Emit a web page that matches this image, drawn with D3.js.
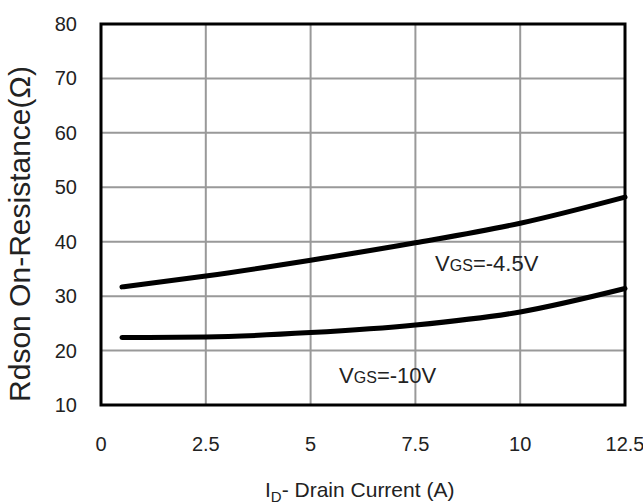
<!DOCTYPE html>
<html>
<head>
<meta charset="utf-8">
<script src="https://cdn.jsdelivr.net/npm/d3@7"></script>
<style>
  body { margin: 0; background: #fff; }
  text { font-family: Arial, "Liberation Sans", sans-serif; fill: #222; }
</style>
</head>
<body>
<div id="chart"></div>
<script>
// chart values
var xTicks = [0, 2.5, 5, 7.5, 10, 12.5];
var yTicks = [10, 20, 30, 40, 50, 60, 70, 80];
var current = [0.5, 2.5, 5, 7.5, 10, 12.5];
var rdsVgs45 = [31.7, 33.7, 36.6, 39.8, 43.4, 48.2];
var rdsVgs10 = [22.4, 22.5, 23.3, 24.7, 27.1, 31.4];
var seriesLabels = [
  {sub: "GS", rest: "=-4.5V", x: 7.97, y: 34.6},
  {sub: "GS", rest: "=-10V", x: 5.68, y: 14.0}
];

var svgW = 643, svgH = 504,
    plotL = 101, plotR = 625, plotT = 24, plotB = 405;

var svg = d3.select("#chart").append("svg")
    .attr("width", svgW)
    .attr("height", svgH);

var x = d3.scaleLinear().domain([0, 12.5]).range([plotL, plotR]);
var y = d3.scaleLinear().domain([10, 80]).range([plotB, plotT]);

// grid
var grid = svg.append("g");
grid.selectAll(".vx").data(xTicks.slice(1, -1)).enter().append("line")
    .attr("x1", function(d){ return x(d); })
    .attr("x2", function(d){ return x(d); })
    .attr("y1", plotT).attr("y2", plotB)
    .attr("stroke", "#999").attr("stroke-width", 2);
grid.selectAll(".hy").data(yTicks.slice(1, -1)).enter().append("line")
    .attr("y1", function(d){ return y(d); })
    .attr("y2", function(d){ return y(d); })
    .attr("x1", plotL).attr("x2", plotR)
    .attr("stroke", "#999").attr("stroke-width", 2);

// frame
svg.append("rect")
    .attr("x", plotL).attr("y", plotT)
    .attr("width", plotR - plotL).attr("height", plotB - plotT)
    .attr("fill", "none").attr("stroke", "#000").attr("stroke-width", 3);

// tick labels
svg.append("g").selectAll("text").data(yTicks).enter().append("text")
    .attr("x", 77)
    .attr("y", function(d){ return y(d); })
    .attr("dy", "0.35em")
    .attr("text-anchor", "end")
    .attr("font-size", 20)
    .text(function(d){ return d; });

svg.append("g").selectAll("text").data(xTicks).enter().append("text")
    .attr("x", function(d){ return x(d); })
    .attr("y", 451)
    .attr("text-anchor", "middle")
    .attr("font-size", 20)
    .text(function(d){ return d; });

// curves
var line = d3.line()
    .x(function(d){ return x(d[0]); })
    .y(function(d){ return y(d[1]); })
    .curve(d3.curveMonotoneX);

[rdsVgs45, rdsVgs10].forEach(function(vals){
  svg.append("path")
     .datum(current.map(function(c, i){ return [c, vals[i]]; }))
     .attr("d", line)
     .attr("fill", "none")
     .attr("stroke", "#000")
     .attr("stroke-width", 5)
     .attr("stroke-linecap", "round");
});

// series labels
seriesLabels.forEach(function(s){
  var t = svg.append("text")
      .attr("x", x(s.x))
      .attr("y", y(s.y))
      .attr("font-size", 22);
  t.append("tspan").text("V");
  t.append("tspan").attr("font-size", 16).text(s.sub);
  t.append("tspan").text(s.rest);
});

// axis titles
var xt = svg.append("text")
    .attr("x", 265)
    .attr("y", 497)
    .attr("font-size", 21);
xt.append("tspan").text("I");
xt.append("tspan").attr("font-size", 15).attr("dy", 5).text("D");
xt.append("tspan").attr("dy", -5).text("- Drain Current (A)");

svg.append("text")
    .attr("transform", "translate(30,234) rotate(-90)")
    .attr("text-anchor", "middle")
    .attr("font-size", 30)
    .text("Rdson On-Resistance(\u03A9)");
</script>
</body>
</html>
